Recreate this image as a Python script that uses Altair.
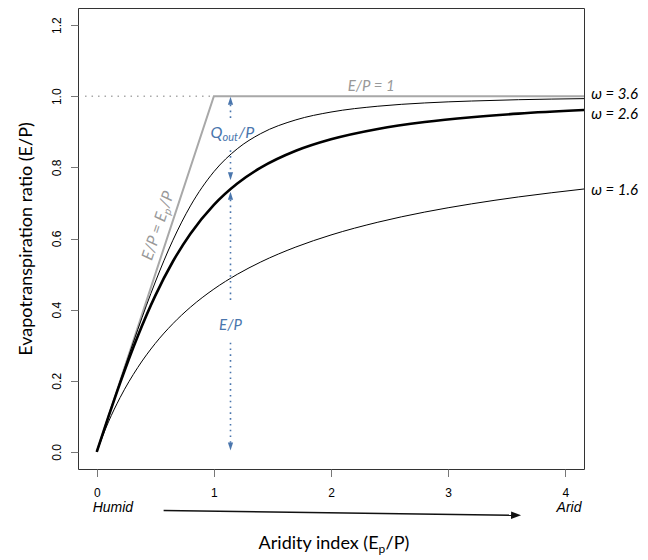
import altair as alt
import pandas as pd

# ---------------- data ----------------
phi = [0, 0.1, 0.2, 0.35, 0.5, 0.65, 0.8, 1.0, 1.2, 1.4, 1.7, 2.0, 2.4, 2.8, 3.2, 3.6, 4.16]
ep_w16 = [0, 0.0844, 0.1531, 0.2373, 0.3050, 0.3605, 0.4069, 0.4578, 0.4994, 0.5339,
          0.5761, 0.6099, 0.6458, 0.6743, 0.6974, 0.7168, 0.7392]
ep_w26 = [0, 0.0990, 0.1942, 0.3254, 0.4395, 0.5353, 0.6135, 0.6945, 0.7545, 0.7992,
          0.8467, 0.8790, 0.9081, 0.9275, 0.9410, 0.9511, 0.9611]
ep_w36 = [0, 0.0999, 0.1992, 0.3437, 0.4777, 0.5951, 0.6917, 0.7877, 0.8523, 0.8949,
          0.9335, 0.9555, 0.9719, 0.9811, 0.9865, 0.9902, 0.9932]
omega_names = ["3.6", "2.6", "1.6"]
omega_labels = ["ω = 3.6", "ω = 2.6", "ω = 1.6"]
omega_label_y = [1.005, 0.951, 0.736]

limit_x = [0, 1, 4.16]
limit_y = [0, 1, 1]
dotted_x = [-0.1, 1]
dotted_y = [1, 1]

x_ticks = [0, 1, 2, 3, 4]
y_ticks = [0.0, 0.2, 0.4, 0.6, 0.8, 1.0, 1.2]

# blue partition arrows (at aridity 1.14)
arrow_x = 1.142
seg_y0 = [0.976, 0.848, 0.709, 0.307]
seg_y1 = [0.928, 0.787, 0.419, 0.026]
head_up_y = [0.987, 0.720]
head_down_y = [0.775, 0.015]

# humid -> arid arrow
ha_x = [0.571, 3.58]
ha_y = [-0.165, -0.178]

# ---------------- styling ----------------
BLUE = "#4a76ad"
GREY = "#a8a8a8"
ANN_FONT = "Lato, 'Open Sans', sans-serif"
TICK_FONT = "Liberation Sans, Arial, sans-serif"

xs = alt.Scale(domain=[-0.16, 4.16], nice=False, zero=False)
ys = alt.Scale(domain=[-0.048, 1.248], nice=False, zero=False)

x_axis = alt.Axis(values=x_ticks, format="d", title=None, domain=False, grid=False,
                  tickSize=7.5, tickColor="#777", tickWidth=1,
                  labelFont=TICK_FONT, labelFontSize=12, labelColor="#000",
                  labelPadding=11)
y_axis = alt.Axis(values=y_ticks, format=".1f", title="Evapotranspiration ratio (E/P)",
                  domain=False, grid=False, tickSize=7.5, tickColor="#777", tickWidth=1,
                  labelFont=TICK_FONT, labelFontSize=12, labelColor="#000",
                  labelAngle=270, labelAlign="center", labelBaseline="bottom",
                  labelPadding=7.5, titleFont=ANN_FONT, titleFontSize=18,
                  titleFontWeight="normal", titleColor="#000", titlePadding=15)


def X():
    return alt.X("x:Q", scale=xs, axis=x_axis)


def Y():
    return alt.Y("y:Q", scale=ys, axis=y_axis)


# ---------------- layers ----------------
dotted = alt.Chart(pd.DataFrame({"x": dotted_x, "y": dotted_y})).mark_line(
    color=GREY, strokeWidth=1.5, strokeDash=[1.5, 5]
).encode(x=X(), y=Y())

limits = alt.Chart(pd.DataFrame({"x": limit_x, "y": limit_y, "o": [0, 1, 2]})).mark_line(
    color=GREY, strokeWidth=2
).encode(x=X(), y=Y(), order="o:Q")

n = len(phi)
thin_df = pd.DataFrame({
    "x": phi * 2,
    "y": ep_w36 + ep_w16,
    "w": [omega_names[0]] * n + [omega_names[2]] * n,
})
thick_df = pd.DataFrame({"x": phi, "y": ep_w26})
curves_thin = alt.Chart(thin_df).mark_line(
    color="#000", strokeWidth=1, interpolate="monotone"
).encode(x=X(), y=Y(), detail="w:N")
curves_thick = alt.Chart(thick_df).mark_line(
    color="#000", strokeWidth=2.6, interpolate="monotone"
).encode(x=X(), y=Y())

seg_df = pd.DataFrame({
    "x": [arrow_x] * 8,
    "y": [v for pair in zip(seg_y0, seg_y1) for v in pair],
    "s": [0, 0, 1, 1, 2, 2, 3, 3],
})
blue_segs = alt.Chart(seg_df).mark_line(color=BLUE, strokeWidth=1.6, strokeDash=[1.6, 4.2]).encode(
    x=X(), y=Y(), detail="s:N"
)
heads_up = alt.Chart(pd.DataFrame({"x": [arrow_x] * 2, "y": head_up_y})).mark_point(
    shape="M0,-1L-0.65,1L0.65,1Z", filled=True, size=64, color=BLUE, opacity=1, strokeWidth=0
).encode(x=X(), y=Y())
heads_down = alt.Chart(pd.DataFrame({"x": [arrow_x] * 2, "y": head_down_y})).mark_point(
    shape="M0,1L-0.65,-1L0.65,-1Z", filled=True, size=64, color=BLUE, opacity=1, strokeWidth=0
).encode(x=X(), y=Y())

ha_line = alt.Chart(pd.DataFrame({"x": ha_x, "y": ha_y})).mark_line(
    color="#111", strokeWidth=1.5
).encode(x=X(), y=Y())
ha_head = alt.Chart(pd.DataFrame({"x": [ha_x[1]], "y": [ha_y[1]]})).mark_point(
    shape="M1,0L-1,-0.75L-1,0.75Z", filled=True, size=100, color="#111", opacity=1,
    strokeWidth=0, angle=1
).encode(x=X(), y=Y())


def text_layer(xv, yv, txt, **kw):
    df = pd.DataFrame({"x": xv, "y": yv, "t": txt})
    return alt.Chart(df).mark_text(**kw).encode(x=X(), y=Y(), text="t:N")


t_omega = text_layer([4.222] * 3, omega_label_y, omega_labels, font=ANN_FONT, fontSize=15,
                     fontStyle="italic", color="#000", align="left", baseline="middle")
t_ep1 = text_layer([2.343], [1.030], ["E/P = 1"], font=ANN_FONT, fontSize=15,
                   fontStyle="italic", color="#999", align="center", baseline="middle")
t_ep = text_layer([1.142], [0.357], ["E/P"], font=ANN_FONT, fontSize=15,
                  fontStyle="italic", color=BLUE, align="center", baseline="middle")
# Q_out / P
q_a = text_layer([1.074], [0.896], ["Q"], font=ANN_FONT, fontSize=16, fontStyle="italic",
                 color=BLUE, align="right", baseline="middle")
q_b = text_layer([1.074], [0.896], ["out"], font=ANN_FONT, fontSize=11, fontStyle="italic",
                 color=BLUE, align="left", baseline="middle", dy=5)
q_c = text_layer([1.074], [0.896], ["/P"], font=ANN_FONT, fontSize=16, fontStyle="italic",
                 color=BLUE, align="left", baseline="middle", dx=16)
# E/P = E_p/P rotated along the energy limit
ANG = 288.2
r_a = text_layer([0.560], [0.672], ["E/P = E"], font=ANN_FONT, fontSize=16, fontStyle="italic",
                 color="#999", align="right", baseline="middle", angle=ANG)
r_b = text_layer([0.560], [0.672], ["p"], font=ANN_FONT, fontSize=11, fontStyle="italic",
                 color="#999", align="left", baseline="middle", angle=ANG, dy=5)
r_c = text_layer([0.560], [0.672], ["/P"], font=ANN_FONT, fontSize=16, fontStyle="italic",
                 color="#999", align="left", baseline="middle", angle=ANG, dx=6.5)
# humid / arid
t_ha = text_layer([0.138, 4.032], [-0.159, -0.159], ["Humid", "Arid"], font=TICK_FONT,
                  fontSize=14, fontStyle="italic", color="#000", align="center", baseline="middle")
# x-axis title with subscript
xt_a = text_layer([2.406], [-0.258], ["Aridity index (E"], font=ANN_FONT, fontSize=18,
                  color="#000", align="right", baseline="middle")
xt_b = text_layer([2.406], [-0.258], ["p"], font=ANN_FONT, fontSize=12,
                  color="#000", align="left", baseline="middle", dy=5)
xt_c = text_layer([2.406], [-0.258], ["/P)"], font=ANN_FONT, fontSize=18,
                  color="#000", align="left", baseline="middle", dx=7)

chart = alt.layer(
    dotted, limits, curves_thin, curves_thick, blue_segs, heads_up, heads_down, ha_line, ha_head,
    t_omega, t_ep1, t_ep, q_a, q_b, q_c, r_a, r_b, r_c, t_ha, xt_a, xt_b, xt_c,
).properties(
    width=506, height=461,
    autosize=alt.AutoSizeParams(type="none"),
    padding={"left": 70, "top": 0, "right": 56, "bottom": 88},
).configure_view(stroke="#333", strokeWidth=1)

chart.save("out.html", embed_options={"renderer": "svg", "actions": False})
